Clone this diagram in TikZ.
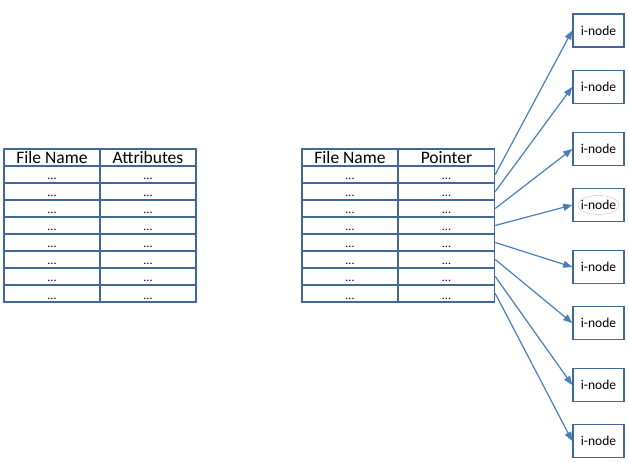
\documentclass[tikz,border=0pt]{standalone}
\usepackage{fontspec}
\setmainfont{Carlito}
\usetikzlibrary{arrows.meta,shapes.geometric}
\definecolor{tblue}{RGB}{65,104,153}
\definecolor{ablue}{RGB}{74,126,187}

\begin{document}
\begin{tikzpicture}[x=1pt,y=-1pt,
  cell/.style={draw=tblue, line width=1.5pt, minimum width=96pt, minimum height=17pt, inner sep=0pt},
  head/.style={font=\fontsize{17.5}{18}\selectfont},
  dots/.style={font=\fontsize{12}{12}\selectfont, anchor=base, inner sep=0pt},
  inode/.style={draw=tblue, fill=white, line width=1.5pt, minimum width=51pt, minimum height=33pt, inner sep=0pt, font=\fontsize{13.5}{14}\selectfont},
  ptr/.style={draw=ablue, line width=1.2pt, -{Triangle[length=9pt,width=7pt]}}]
\useasboundingbox (0,0) rectangle (629,462);

% directory with attributes
\node[cell,head] (lname) at (52,157.5) {File Name};
\node[cell,head] (lattr) at (148,157.5) {Attributes};
\foreach \i in {1,...,8} {
  \node[cell] (lf\i) at (52,{157.5+17*\i}) {};
  \node[cell] (la\i) at (148,{157.5+17*\i}) {};
  \node[dots] at (52,{163+17*\i}) {...};
  \node[dots] at (148,{163+17*\i}) {...};
}

% directory with pointers
\node[cell,head] (rname) at (350,157.5) {File Name};
\node[cell,head] (rptr) at (446.5,157.5) {Pointer};
\foreach \i in {1,...,8} {
  \node[cell] (rf\i) at (350,{157.5+17*\i}) {};
  \node[cell] (p\i) at (446.5,{157.5+17*\i}) {};
  \node[dots] at (350,{163+17*\i}) {...};
  \node[dots] at (446.5,{163+17*\i}) {...};
}

% i-nodes
\foreach \y [count=\i] in {30.5,87,149,205,267,323,385,441}
  \node[inode] (n\i) at (598.5,\y) {i-node};
\node[ellipse, draw=gray!50, line width=0.4pt, minimum width=41pt, minimum height=19pt, inner sep=0pt] (sel) at (n4) {};

\foreach \i in {1,...,8}
  \draw[ptr] (p\i.east) -- (n\i.west);
\end{tikzpicture}
\end{document}
